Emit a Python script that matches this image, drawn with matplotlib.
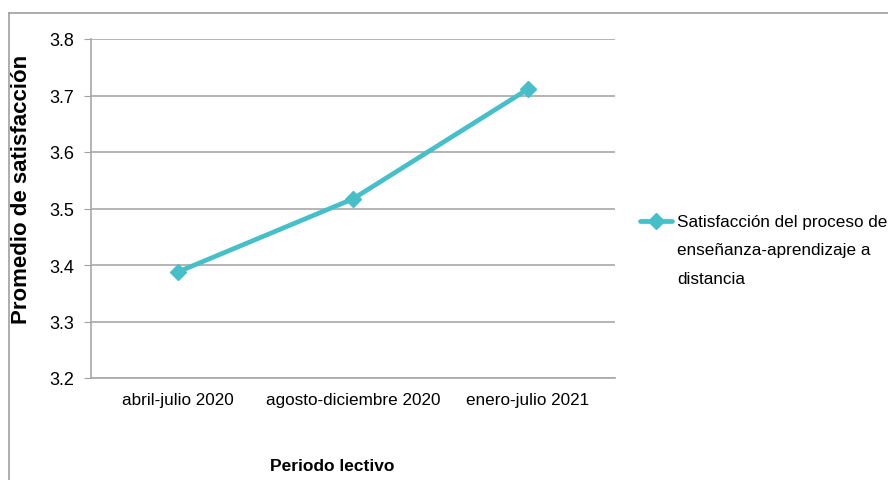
import matplotlib
matplotlib.use("Agg")
import matplotlib.pyplot as plt
from matplotlib.lines import Line2D

periods = ["abril-julio 2020", "agosto-diciembre 2020", "enero-julio 2021"]
satisfaction = [3.388, 3.517, 3.711]
y_ticks = [3.2, 3.3, 3.4, 3.5, 3.6, 3.7, 3.8]
series_name = "Satisfacción del proceso de\nenseñanza-aprendizaje a\ndistancia"

plt.rcParams["font.family"] = ["Liberation Sans", "DejaVu Sans"]

W, H = 888, 481
fig = plt.figure(figsize=(W / 100, H / 100), dpi=100)
ax = fig.add_axes([91 / W, (H - 379) / H, (615 - 91) / W, (379 - 40) / H])

color = "#46BFC9"
line_style = dict(color=color, lw=3.4, marker="D", ms=8,
                  markeredgecolor=color, markerfacecolor=color,
                  solid_capstyle="round")
x = list(range(len(periods)))
ax.plot(x, satisfaction, **line_style)

ax.set_xlim(-0.5, len(periods) - 0.5)
ax.set_ylim(3.2, 3.8)
ax.set_yticks(y_ticks)
ax.set_yticklabels([f"{v:.1f}" for v in y_ticks], fontsize=13)
ax.set_xticks(x)
ax.set_xticklabels(periods, fontsize=12.3)
ax.tick_params(axis="x", length=0, pad=10)
ax.tick_params(axis="y", length=5, color="#A0A0A0", pad=7)
ax.grid(axis="y", color="#A8A8A8", lw=1.2)
ax.set_axisbelow(True)
for s in ["top", "right"]:
    ax.spines[s].set_visible(False)
for s in ["left", "bottom"]:
    ax.spines[s].set_color("#A8A8A8")
    ax.spines[s].set_linewidth(1.2)

fig.text(22 / W, 1 - 189 / H, "Promedio de satisfacción", rotation=90,
         ha="center", va="center", fontsize=16, fontweight="bold")
fig.text(332 / W, 1 - 467 / H, "Periodo lectivo", ha="center", va="center",
         fontsize=12.5, fontweight="bold")

# legend: sample line with marker, then the wrapped series name
key_y = 1 - 222 / H
fig.add_artist(Line2D([640 / W, 672 / W], [key_y, key_y],
                      transform=fig.transFigure, color=color, lw=3.4,
                      solid_capstyle="round"))
fig.add_artist(Line2D([656 / W], [key_y], transform=fig.transFigure,
                      linestyle="none", marker="D", ms=8, color=color))
fig.text(677 / W, 1 - 251 / H, series_name, ha="left", va="center",
         fontsize=12.3, linespacing=2.1)

# outer chart frame
fig.add_artist(Line2D([9 / W, 1], [1 - 14 / H, 1 - 14 / H],
                      color="#A0A0A0", lw=1.2, transform=fig.transFigure))
fig.add_artist(Line2D([9 / W, 9 / W], [1 - 14 / H, 0],
                      color="#A0A0A0", lw=1.2, transform=fig.transFigure))

fig.savefig("out.png", dpi=100)
